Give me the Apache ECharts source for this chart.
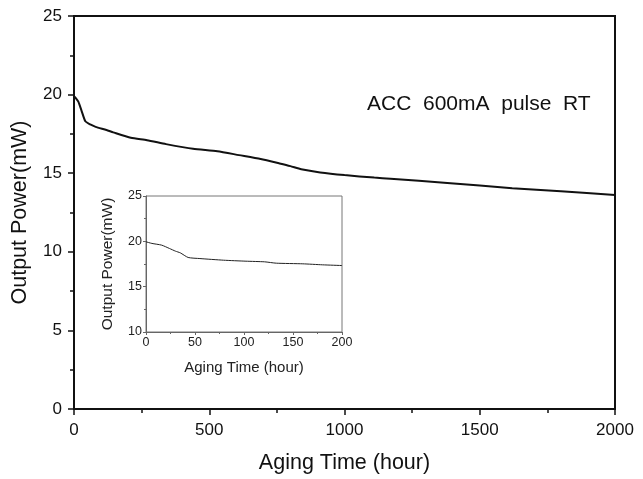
<!DOCTYPE html>
<html>
<head>
<meta charset="utf-8">
<script src="https://cdn.jsdelivr.net/npm/echarts@6/dist/echarts.min.js"></script>
<style>
  html, body { margin: 0; padding: 0; background: #fff; }
  #chart { width: 643px; height: 479px; }
</style>
</head>
<body>
<div id="chart"></div>
<script>
// main curve, 0-2000 h
var mainHours = [0, 8, 16, 28, 42, 60, 80, 120, 145, 210, 270, 340, 440, 530, 610, 690, 760, 800, 840, 910, 1000, 1110, 1170, 1380, 1620, 1800, 2000];
var mainPower = [19.9, 19.75, 19.55, 18.97, 18.3, 18.1, 17.95, 17.75, 17.6, 17.25, 17.1, 16.85, 16.55, 16.4, 16.15, 15.9, 15.62, 15.45, 15.25, 15.05, 14.88, 14.72, 14.65, 14.38, 14.05, 13.85, 13.62];
// inset curve, first 200 h
var insetHours = [0, 6, 16, 24, 30, 35, 43, 55, 79, 102, 121, 133, 160, 180, 200];
var insetPower = [19.95, 19.77, 19.58, 19.21, 18.92, 18.73, 18.22, 18.1, 17.92, 17.81, 17.74, 17.59, 17.52, 17.41, 17.33];
var labelText = 'ACC  600mA  pulse  RT';

function pairs(xs, ys) {
  var out = [];
  for (var i = 0; i < xs.length; i++) out.push([xs[i], ys[i]]);
  return out;
}
function plain(v) { return String(v); }

var font = 'Liberation Sans, Arial, sans-serif';

var chart = echarts.init(document.getElementById('chart'));
chart.setOption({
  backgroundColor: '#fff',
  animation: false,
  title: {
    text: labelText,
    left: 362, top: 89,
    textStyle: { fontFamily: font, fontSize: 21, fontWeight: 'normal', color: '#111' }
  },
  grid: [
    { left: 74, top: 16, right: 28, bottom: 66, show: true, borderColor: '#111', borderWidth: 2, backgroundColor: 'transparent' },
    { left: 146, top: 196, width: 196, height: 136, show: true, borderColor: '#777', borderWidth: 1, backgroundColor: '#fff' }
  ],
  xAxis: [
    {
      gridIndex: 0, type: 'value', min: 0, max: 2000, interval: 500,
      name: 'Aging Time (hour)', nameLocation: 'middle', nameGap: 43,
      nameTextStyle: { fontFamily: font, fontSize: 21.5, color: '#111' },
      axisLine: { lineStyle: { color: '#111', width: 2 } },
      axisTick: { length: 6, lineStyle: { color: '#111', width: 1.5 } },
      minorTick: { show: true, splitNumber: 2, length: 4, lineStyle: { color: '#111', width: 1.5 } },
      axisLabel: { fontFamily: font, fontSize: 17, color: '#111', margin: 13, formatter: plain },
      splitLine: { show: false }
    },
    {
      gridIndex: 1, type: 'value', min: 0, max: 200, interval: 50,
      name: 'Aging Time (hour)', nameLocation: 'middle', nameGap: 28,
      nameTextStyle: { fontFamily: font, fontSize: 15, color: '#222' },
      axisLine: { lineStyle: { color: '#666', width: 1 } },
      axisTick: { length: 3, lineStyle: { color: '#666' } },
      minorTick: { show: true, splitNumber: 2, length: 2, lineStyle: { color: '#666' } },
      axisLabel: { fontFamily: font, fontSize: 12.5, color: '#222', margin: 4, formatter: plain },
      splitLine: { show: false }
    }
  ],
  yAxis: [
    {
      gridIndex: 0, type: 'value', min: 0, max: 25, interval: 5,
      name: 'Output Power(mW)', nameLocation: 'middle', nameGap: 43,
      nameTextStyle: { fontFamily: font, fontSize: 21.5, color: '#111' },
      axisLine: { lineStyle: { color: '#111', width: 2 } },
      axisTick: { length: 6, lineStyle: { color: '#111', width: 1.5 } },
      minorTick: { show: true, splitNumber: 2, length: 4, lineStyle: { color: '#111', width: 1.5 } },
      axisLabel: { fontFamily: font, fontSize: 17, color: '#111', margin: 12 },
      splitLine: { show: false }
    },
    {
      gridIndex: 1, type: 'value', min: 10, max: 25, interval: 5,
      name: 'Output Power(mW)', nameLocation: 'middle', nameGap: 30,
      nameTextStyle: { fontFamily: font, fontSize: 15.5, color: '#222' },
      axisLine: { lineStyle: { color: '#666', width: 1 } },
      axisTick: { length: 3, lineStyle: { color: '#666' } },
      minorTick: { show: true, splitNumber: 2, length: 2, lineStyle: { color: '#666' } },
      axisLabel: { fontFamily: font, fontSize: 12.5, color: '#222', margin: 4 },
      splitLine: { show: false }
    }
  ],
  series: [
    {
      type: 'line', xAxisIndex: 0, yAxisIndex: 0,
      data: pairs(mainHours, mainPower),
      showSymbol: false, smooth: 0.2,
      lineStyle: { color: '#111', width: 2 }
    },
    {
      type: 'line', xAxisIndex: 1, yAxisIndex: 1,
      data: pairs(insetHours, insetPower),
      showSymbol: false, smooth: 0.2,
      lineStyle: { color: '#222', width: 1 }
    }
  ]
});
</script>
</body>
</html>
